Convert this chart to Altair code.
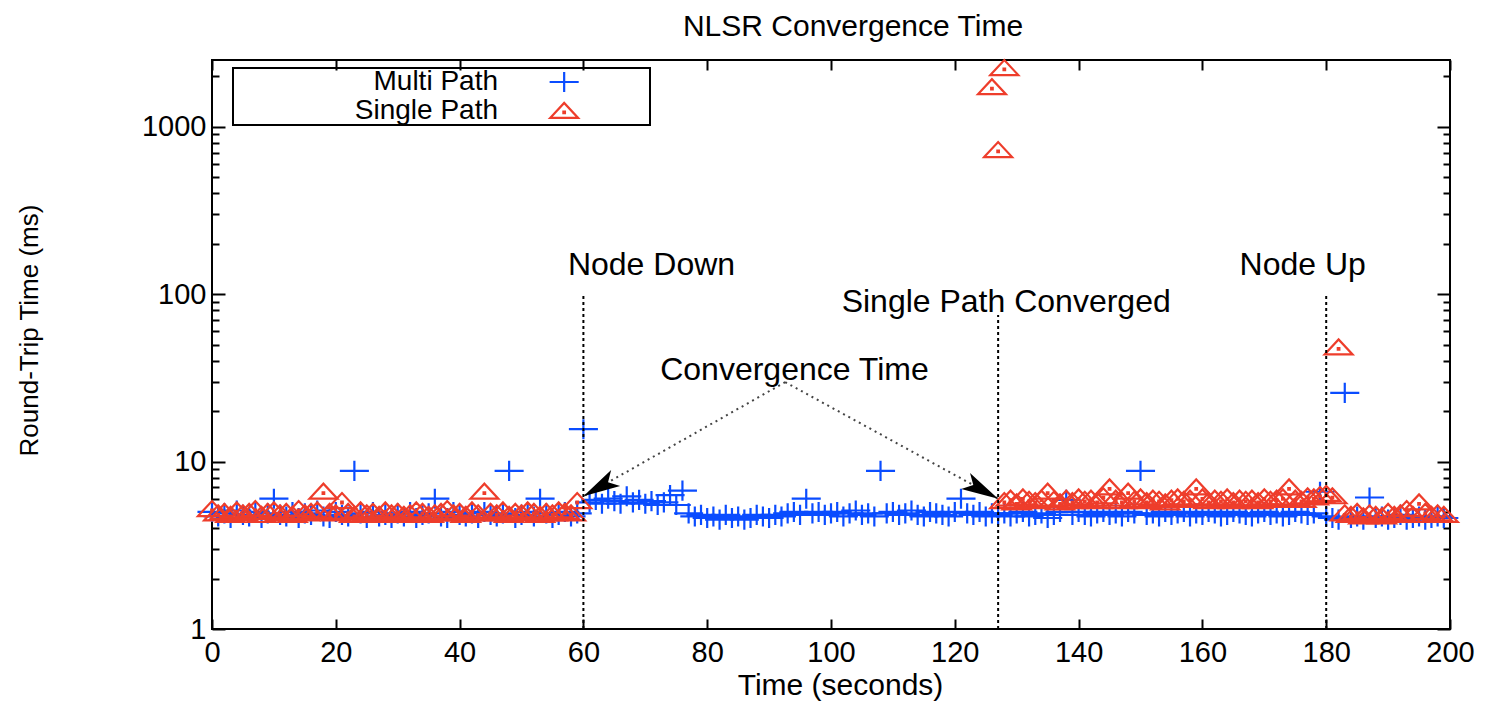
import math
import altair as alt
import pandas as pd

FONT = "Liberation Sans"

# ---------------- data ----------------
series_names = ["Multi Path", "Single Path"]
series_colors = ["#0a4cff", "#ee3d2b"]

multi_time = list(range(200))
multi_rtt = [
    5.0, 4.7, 4.9, 4.6, 5.1, 4.8, 4.7, 5.0, 4.6, 4.9,
    6.0, 4.8, 4.7, 5.0, 4.6, 4.9, 4.8, 5.1, 4.7, 4.6,
    5.0, 4.8, 4.7, 8.8, 4.9, 4.6, 5.0, 4.7, 4.8, 4.6,
    4.9, 4.7, 5.0, 4.6, 4.8, 4.9, 6.0, 4.7, 4.6, 5.0,
    4.8, 4.7, 4.9, 4.6, 5.0, 4.8, 4.7, 4.9, 8.8, 4.6,
    4.8, 5.0, 4.7, 6.0, 4.9, 4.6, 4.8, 5.0, 4.7, 4.9,
    15.6, 5.7, 5.9, 5.6, 6.0, 5.8, 5.6, 6.2, 5.7, 5.9,
    5.6, 5.8, 5.5, 5.7, 6.3, 5.5, 6.7, 4.9, 4.7, 4.8,
    4.6, 4.7, 4.5, 4.8, 4.6, 4.7, 4.5, 4.6, 4.8, 4.7,
    4.6, 4.8, 4.7, 4.9, 5.0, 4.8, 6.0, 4.9, 5.0, 4.8,
    4.9, 5.0, 4.7, 4.9, 5.1, 4.8, 4.9, 4.7, 8.8, 4.9,
    5.0, 4.8, 4.9, 5.1, 4.8, 4.7, 5.0, 4.9, 4.8, 4.7,
    5.0, 6.0, 4.9, 4.8, 5.0, 4.7, 4.9, 4.8, 4.9, 4.7,
    4.9, 5.0, 4.7, 4.8, 4.9, 4.6, 4.8, 5.0, 5.9, 4.8,
    5.0, 4.8, 4.7, 4.9, 5.0, 4.8, 4.9, 4.7, 5.0, 4.9,
    8.8, 4.8, 4.9, 4.7, 5.0, 4.8, 4.9, 5.0, 4.7, 4.9,
    4.8, 5.0, 4.9, 4.7, 4.8, 5.0, 4.9, 4.8, 4.7, 4.9,
    5.0, 4.8, 4.9, 4.7, 4.8, 5.0, 4.9, 4.8, 4.9, 6.6,
    4.7, 4.6, 4.5, 25.7, 4.6, 4.7, 4.5, 6.1, 4.6, 4.7,
    4.5, 4.6, 4.8, 4.5, 4.6, 4.7, 4.5, 4.6, 4.7, 4.6,
]

single_time_before = list(range(60))
single_rtt_before = [
    5.2, 4.9, 5.0, 4.8, 5.1, 4.9, 5.0, 5.2, 4.8, 5.0,
    5.1, 4.9, 5.0, 4.8, 5.2, 4.9, 5.0, 5.1, 6.6, 5.0,
    4.9, 5.8, 5.0, 4.8, 5.1, 4.9, 5.0, 4.8, 5.1, 4.9,
    5.0, 4.8, 4.9, 5.1, 5.0, 4.8, 4.9, 5.0, 5.2, 4.9,
    5.0, 4.8, 5.1, 4.9, 6.6, 5.0, 4.9, 5.1, 4.8, 5.0,
    4.9, 5.1, 5.0, 4.8, 5.0, 4.9, 5.1, 5.0, 4.9, 5.8,
]
single_spike_time = [126, 127, 128]
single_spike_rtt = [1720, 724, 2235]
single_time_after = list(range(128, 200))
single_rtt_after = [
    5.8, 6.0, 5.7, 6.1, 5.9, 5.8, 6.0, 6.6, 5.9, 5.7,
    6.0, 5.8, 6.1, 5.9, 6.0, 5.8, 6.2, 7.0, 6.0, 5.8,
    6.6, 5.9, 6.1, 5.8, 6.0, 5.9, 5.7, 6.0, 6.1, 5.9,
    6.0, 7.0, 6.1, 5.8, 6.0, 5.9, 6.1, 5.8, 6.0, 5.9,
    6.0, 5.8, 6.1, 5.9, 6.0, 6.1, 7.0, 6.0, 5.9, 6.2,
    6.1, 6.3, 6.4, 6.2, 48.0, 4.9, 4.8, 5.0, 4.7, 4.9,
    4.8, 4.7, 5.0, 4.8, 4.9, 5.2, 4.8, 5.7, 5.0, 4.8,
    4.9, 4.8,
]

event_time = [60, 127, 180]
event_bottom = [1, 1, 1]
event_top = [100, 75, 100]

label_text = ["Node Down", "Single Path Converged", "Node Up", "Convergence Time"]
label_time = [71, 128.3, 176.2, 94.1]
label_rtt = [150, 90, 150, 35]

arrow_from_time = [92.6, 92.6]
arrow_from_rtt = [29.8, 29.8]
arrow_to_time = [60, 127]
arrow_to_rtt = [6.2, 6.0]

x_ticks = [0, 20, 40, 60, 80, 100, 120, 140, 160, 180, 200]
y_major = [1, 10, 100, 1000]
y_minor = [2, 3, 4, 5, 6, 7, 8, 9, 20, 30, 40, 50, 60, 70, 80, 90,
           200, 300, 400, 500, 600, 700, 800, 900, 2000]

# ---------------- layout ----------------
W, H = 1238, 569
X_DOM = [0, 200]
Y_DOM = [1, 2500]

# marker shapes for the plot
plus_path = "M-1.3,0H1.3M0,-0.9V0.9"
tri_path = "M-1.25,0.62L0,-0.72L1.25,0.62ZM-0.07,0.05H0.07V0.19H-0.07Z"
# same shapes drawn to the right of their anchor, for a gnuplot-style key
key_plus_path = "M5.87,0H8.47M7.17,-0.9V0.9M14.4,0"
key_tri_path = "M5.92,0.62L7.17,-0.72L8.42,0.62ZM7.10,0.05H7.24V0.19H7.10ZM14.4,0"
head_path = "M0,0L0.42,1.7L0,1.3L-0.42,1.7Z"

# ---------------- tables ----------------
points_df = pd.DataFrame({
    "time": multi_time + single_time_before + single_spike_time + single_time_after,
    "rtt": multi_rtt + single_rtt_before + single_spike_rtt + single_rtt_after,
    "series": ["Multi Path"] * len(multi_time)
    + ["Single Path"] * (len(single_time_before) + len(single_spike_time) + len(single_time_after)),
})
key_df = pd.DataFrame({"series": series_names, "time": [None, None], "rtt": [None, None]})
events_df = pd.DataFrame({"time": event_time, "bottom": event_bottom, "top": event_top})
labels_df = pd.DataFrame({"time": label_time, "rtt": label_rtt, "label": label_text})


def to_px(t, v):
    return t / (X_DOM[1] - X_DOM[0]) * W, H * (1 - math.log10(v) / math.log10(Y_DOM[1]))


angles = []
for t0, v0, t1, v1 in zip(arrow_from_time, arrow_from_rtt, arrow_to_time, arrow_to_rtt):
    x0, y0 = to_px(t0, v0)
    x1, y1 = to_px(t1, v1)
    angles.append(math.degrees(math.atan2(x1 - x0, -(y1 - y0))) % 360)

arrows_df = pd.DataFrame({
    "t0": arrow_from_time, "v0": arrow_from_rtt,
    "t1": arrow_to_time, "v1": arrow_to_rtt, "angle": angles,
})

xs = alt.Scale(domain=X_DOM, nice=False, zero=False)
ys = alt.Scale(type="log", domain=Y_DOM, nice=False)


def tick_axis(orient, offset, values, size):
    return alt.Axis(orient=orient, offset=offset, values=values, labels=False, domain=False,
                    grid=False, ticks=True, tickSize=size, tickWidth=2, tickColor="black",
                    title=None)


legend = alt.Legend(
    title=None, orient="none", legendX=21, legendY=8,
    labelAlign="right", labelOffset=0, symbolOffset=237,
    labelFont=FONT, labelFontSize=28, labelColor="black", labelLimit=400,
    symbolSize=500, symbolStrokeWidth=2.2, padding=0, rowPadding=0,
    strokeColor="black",
)

pts = alt.Chart(points_df).mark_point(filled=False, strokeWidth=2.2, size=500, opacity=1).encode(
    x=alt.X("time:Q", scale=xs, axis=alt.Axis(
        orient="bottom", values=x_ticks, ticks=False, tickSize=0, domain=False, grid=False,
        labelFont=FONT, labelFontSize=29, labelColor="black", labelPadding=9,
        labelFlush=False, labelOverlap=False,
        title="Time (seconds)", titleFont=FONT, titleFontSize=30, titleFontWeight="normal",
        titleColor="black", titleX=628, titleY=41)),
    y=alt.Y("rtt:Q", scale=ys, axis=alt.Axis(
        orient="left", values=y_major, format="d", ticks=False, tickSize=0, domain=False,
        grid=False, labelFont=FONT, labelFontSize=29, labelColor="black", labelPadding=6,
        title="Round-Trip Time (ms)", titleFont=FONT, titleFontSize=26,
        titleFontWeight="normal", titleColor="black", titleX=-170, titleY=270)),
    color=alt.Color("series:N", scale=alt.Scale(domain=series_names, range=series_colors),
                    legend=None),
    shape=alt.Shape("series:N", scale=alt.Scale(domain=series_names, range=[plus_path, tri_path]),
                    legend=None),
)

key = alt.Chart(key_df).mark_point(filled=False, strokeWidth=2.2, size=500, opacity=1).encode(
    x=alt.X("time:Q", scale=xs, axis=None),
    y=alt.Y("rtt:Q", scale=ys, axis=None),
    color=alt.Color("series:N", scale=alt.Scale(domain=series_names, range=series_colors),
                    legend=legend),
    shape=alt.Shape("series:N",
                    scale=alt.Scale(domain=series_names, range=[key_plus_path, key_tri_path]),
                    legend=legend),
)

ev = alt.Chart(events_df).mark_rule(color="black", strokeWidth=2, strokeDash=[3, 3]).encode(
    x=alt.X("time:Q", scale=xs, axis=tick_axis("top", -H, x_ticks, 10)),
    y=alt.Y("bottom:Q", scale=ys, axis=tick_axis("right", -W, y_major, 13)),
    y2="top:Q",
)

ar = alt.Chart(arrows_df).mark_rule(color="#444444", strokeWidth=2, strokeDash=[2, 4]).encode(
    x=alt.X("t0:Q", scale=xs, axis=tick_axis("bottom", -H, x_ticks, 10)),
    y=alt.Y("v0:Q", scale=ys, axis=tick_axis("left", -W, y_major, 13)),
    x2="t1:Q",
    y2="v1:Q",
)

hd = alt.Chart(arrows_df).mark_point(filled=True, color="black", opacity=1, size=1900,
                                      shape=head_path).encode(
    x=alt.X("t1:Q", scale=xs, axis=None),
    y=alt.Y("v1:Q", scale=ys, axis=tick_axis("right", -W, y_minor, 7)),
    angle=alt.Angle("angle:Q", scale=None),
)

tx = alt.Chart(labels_df).mark_text(font=FONT, fontSize=32, color="black", align="center",
                                     baseline="middle").encode(
    x=alt.X("time:Q", scale=xs, axis=None),
    y=alt.Y("rtt:Q", scale=ys, axis=tick_axis("left", -W, y_minor, 7)),
    text="label:N",
)

chart = alt.layer(pts, key, ev, ar, hd, tx).resolve_axis(
    x="independent", y="independent"
).resolve_scale(
    color="independent", shape="independent"
).properties(
    width=W, height=H,
    title=alt.Title("NLSR Convergence Time", font=FONT, fontSize=30, fontWeight="normal",
                    color="black", anchor="middle", dx=22, offset=14),
    autosize=alt.AutoSizeParams(type="none"),
    padding={"left": 204, "top": 52, "right": 50, "bottom": 74},
    background="white",
).configure_view(
    stroke="black", strokeWidth=2
).configure_legend(
    strokeWidth=2
)

chart.save("out.html", embed_options={"renderer": "svg", "actions": False})
